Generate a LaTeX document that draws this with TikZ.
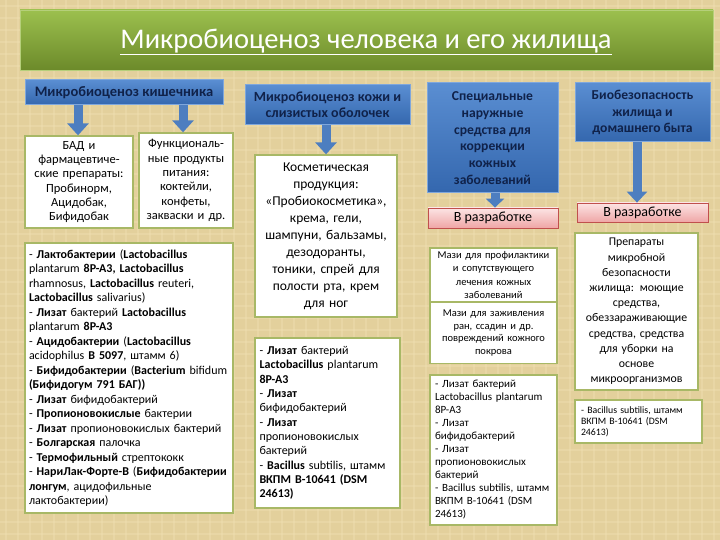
\documentclass[tikz,border=0pt]{standalone}
\usepackage{fontspec}
\setmainfont{Carlito}
\usetikzlibrary{arrows.meta}
\definecolor{bgc}{HTML}{E3D09C}
\definecolor{bgl}{HTML}{EFDFB2}
\definecolor{grTop}{HTML}{9CC04E}
\definecolor{grBot}{HTML}{6C8A2A}
\definecolor{grBorder}{HTML}{B5CF7A}
\definecolor{blTop}{HTML}{5A8ED2}
\definecolor{blBot}{HTML}{3467AE}
\definecolor{blBorder}{HTML}{7FA7DC}
\definecolor{navy}{HTML}{10224A}
\definecolor{blArrow}{HTML}{4D7EC0}
\definecolor{olv}{HTML}{A8B866}
\definecolor{pkTop}{HTML}{FCE4E4}
\definecolor{pkBot}{HTML}{EFA6A6}
\definecolor{pkBorder}{HTML}{C0504D}
\newcommand{\fs}[2]{\fontsize{#1}{#2}\selectfont}
\begin{document}
\begin{tikzpicture}[x=1pt,y=-1pt,
  hdr/.style={draw=blBorder, line width=1pt, top color=blTop, bottom color=blBot, text=navy, align=center, inner sep=0pt},
  wbox/.style={draw=olv, line width=1.3pt, fill=white, align=center, inner sep=0pt},
  devbox/.style={draw=pkBorder, line width=0.8pt, top color=pkTop, bottom color=pkBot, align=center, inner sep=0pt, font=\fs{14}{15}},
  barrow/.style={draw=blArrow, line width=9pt, -{Triangle[width=21pt,length=12pt]}},
  bgline/.style={draw=bgl, line width=1.5pt, opacity=0.45}
]
\useasboundingbox (0,0) rectangle (720,540);
\fill[bgc] (0,0) rectangle (720,540);
\foreach \i in {6,18,...,720} {\draw[bgline] (\i,0) -- (\i,540);}
\foreach \j in {6,18,...,540} {\draw[bgline] (0,\j) -- (720,\j);}

% title
\node[draw=grBorder, line width=0.8pt, top color=grTop, bottom color=grBot, minimum width=693pt, minimum height=60pt, inner sep=0pt] (title) at (366.5,40) {};
\node[text=white, font=\fs{28.5}{30}, inner sep=0pt] (ttext) at (366,42) {\underline{Микробиоценоз человека и его жилища}};

% column 1
\node[hdr, minimum width=198pt, minimum height=25pt, font=\bfseries\fs{14.5}{15}] (h1) at (124,92.5) {Микробиоценоз кишечника};
\node[wbox, minimum width=108pt, minimum height=92pt, text width=104pt, font=\fs{12.5}{14.3}] (bad) at (79,182) {БАД и\\фармацевтиче-\\ские препараты:\\Пробинорм,\\Ацидобак,\\Бифидобак};
\node[wbox, minimum width=94pt, minimum height=95pt, text width=92pt, font=\fs{12.5}{14.3}] (func) at (186,180.5) {Функциональ-\\ные продукты\\питания:\\коктейли,\\конфеты,\\закваски и др.};
\node[wbox, minimum width=208pt, minimum height=270pt, text width=200pt, align=left, font=\fs{12}{14.5}] (list) at (129,378) {%
- \textbf{Лактобактерии} (\textbf{Lactobacillus}\\
plantarum \textbf{8P-A3, Lactobacillus}\\
rhamnosus, \textbf{Lactobacillus} reuteri,\\
\textbf{Lactobacillus} salivarius)\\
- \textbf{Лизат} бактерий \textbf{Lactobacillus}\\
plantarum \textbf{8P-A3}\\
- \textbf{Ацидобактерии} (\textbf{Lactobacillus}\\
acidophilus \textbf{B 5097}, штамм 6)\\
- \textbf{Бифидобактерии} (\textbf{Bacterium} bifidum\\
\textbf{(Бифидогум 791 БАГ))}\\
- \textbf{Лизат} бифидобактерий\\
- \textbf{Пропионовокислые} бактерии\\
- \textbf{Лизат} пропионовокислых бактерий\\
- \textbf{Болгарская} палочка\\
- \textbf{Термофильный} стрептококк\\
- \textbf{НариЛак-Форте-В} (\textbf{Бифидобактерии}\\
\textbf{лонгум}, ацидофильные\\
лактобактерии)};

% column 2
\node[hdr, minimum width=165pt, minimum height=40pt, font=\bfseries\fs{14}{16}] (h2) at (327.5,105) {Микробиоценоз кожи и\\слизистых оболочек};
\node[wbox, minimum width=142pt, minimum height=162pt, text width=140pt, font=\fs{13.5}{17}] (cosm) at (326,236) {Косметическая\\продукция:\\«Пробиокосметика»,\\крема, гели,\\шампуни, бальзамы,\\дезодоранты,\\тоники, спрей для\\полости рта, крем\\для ног};
\node[wbox, minimum width=145pt, minimum height=170pt, text width=136pt, align=left, font=\fs{12}{14.3}] (lys2) at (327.5,423) {%
- \textbf{Лизат} бактерий\\
\textbf{Lactobacillus} plantarum\\
\textbf{8P-A3}\\
- \textbf{Лизат}\\
бифидобактерий\\
- \textbf{Лизат}\\
пропионовокислых\\
бактерий\\
- \textbf{Bacillus} subtilis, штамм\\
\textbf{ВКПМ В-10641 (DSM}\\
\textbf{24613)}};

% column 3
\node[hdr, minimum width=131pt, minimum height=110pt, font=\bfseries\fs{13.6}{16.8}] (h3) at (492.5,138) {Специальные\\наружные\\средства для\\коррекции\\кожных\\заболеваний};
\node[devbox, minimum width=130pt, minimum height=20pt] (dev3) at (493,218) {В разработке};
\node[wbox, minimum width=127pt, minimum height=54pt, text width=125pt, font=\fs{10.5}{13.3}] (mazi1) at (493.5,275) {Мази для профилактики\\и сопутствующего\\лечения кожных\\заболеваний};
\node[wbox, minimum width=127pt, minimum height=61pt, text width=125pt, font=\fs{10.5}{12.8}] (mazi2) at (493.5,333) {Мази для заживления\\ран, ссадин и др.\\повреждений кожного\\покрова};
\node[wbox, minimum width=127pt, minimum height=150pt, text width=117pt, align=left, font=\fs{11}{13}] (lys3) at (493.5,450) {%
- Лизат бактерий\\
Lactobacillus plantarum\\
8P-A3\\
- Лизат\\
бифидобактерий\\
- Лизат\\
пропионовокислых\\
бактерий\\
- Bacillus subtilis, штамм\\
ВКПМ В-10641 (DSM\\
24613)};

% column 4
\node[hdr, minimum width=135pt, minimum height=59pt, font=\bfseries\fs{13.6}{16.5}] (h4) at (642.5,112.5) {Биобезопасность\\жилища и\\домашнего быта};
\node[devbox, minimum width=131pt, minimum height=19pt] (dev4) at (642.5,212.5) {В разработке};
\node[wbox, minimum width=123pt, minimum height=157pt, text width=121pt, font=\fs{11.8}{15.2}] (prep) at (636.5,311.5) {Препараты\\микробной\\безопасности\\жилища: моющие\\средства,\\обеззараживающие\\средства, средства\\для уборки на\\основе\\микроорганизмов};
\node[wbox, minimum width=127pt, minimum height=43pt, text width=115pt, align=left, font=\fs{9.8}{11.2}] (bac) at (638.5,421.5) {- Bacillus subtilis, штамм\\ВКПМ В-10641 (DSM\\24613)};

% arrows
\draw[barrow] (78,0 |- h1.south) -- (78,0 |- bad.north);
\draw[barrow] (183,0 |- h1.south) -- (183,0 |- func.north);
\draw[barrow] (326,0 |- h2.south) -- (326,0 |- cosm.north);
\draw[barrow, -{Triangle[width=18pt,length=9pt]}] (495,0 |- h3.south) -- (495,0 |- dev3.north);
\draw[barrow, -{Triangle[width=20pt,length=11pt]}] (637,0 |- h4.south) -- (637,0 |- dev4.north);
\end{tikzpicture}
\end{document}
